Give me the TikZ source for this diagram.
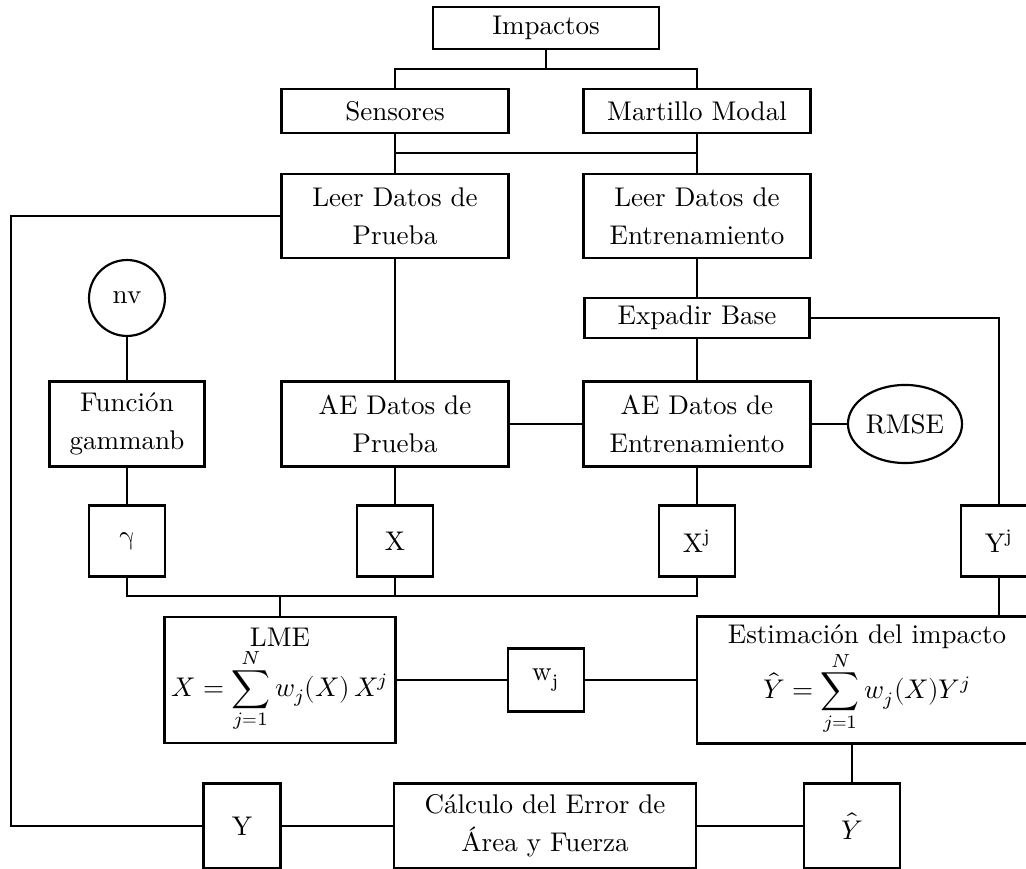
\documentclass[tikz,border=0pt]{standalone}
\usepackage{fontspec}
\usepackage{unicode-math}
\usetikzlibrary{shapes.geometric}

\tikzset{
    box/.style={draw, rectangle, inner sep=0pt, align=center, font=\fontsize{10}{14}\selectfont},
    wide/.style={box, minimum width=84pt},
    small/.style={box, minimum width=28.1pt, minimum height=26.3pt},
    link/.style={thick}
}

\begin{document}
\begin{tikzpicture}[x=0.37pt, y=-0.37pt, thick]
    % Page frame
    \useasboundingbox (0,0) rectangle (1026,869);

    % Top of the chart
    \node[wide, minimum width=83.6pt, minimum height=15.5pt] (imp) at (546,28) {Impactos};
    \node[wide, minimum height=16.3pt] (sens) at (395,111) {Sensores};
    \node[wide, minimum height=16.3pt] (mart) at (697,111) {Martillo Modal};
    \node[wide, minimum height=31.1pt] (leerP) at (395,216) {Leer Datos de\\Prueba};
    \node[wide, minimum height=31.1pt] (leerE) at (697,216) {Leer Datos de\\Entrenamiento};

    % Branch points
    \coordinate (split1) at (546,69);
    \coordinate (join1) at (546,153);
    \coordinate (join2) at (546,596);
    \coordinate (lft) at (11,216);

    % Middle rows
    \node[box, circle, minimum size=28.1pt] (nv) at (127,298) {nv};
    \node[box, minimum width=57.4pt, minimum height=31.5pt] (fun) at (127,424) {Función\\gammanb};
    \node[wide, minimum height=31.5pt] (aeP) at (395,424) {AE Datos de\\Prueba};
    \node[wide, minimum width=83.3pt, minimum height=14.8pt] (exp) at (697,318) {Expadir Base};
    \node[wide, minimum height=31.5pt] (aeE) at (697,424) {AE Datos de\\Entrenamiento};
    \node[box, ellipse, minimum width=42.2pt, minimum height=28.9pt] (rmse) at (905,424) {RMSE};

    % Vectors
    \node[small] (gam) at (127,541) {$\symup{\gamma}$};
    \node[small] (xv) at (395,541) {X};
    \node[small] (xj) at (697,541) {X\textsuperscript{j}};
    \node[small] (yj) at (999,541) {Y\textsuperscript{j}};

    % Weights and estimation
    \node[box, minimum width=85.5pt, minimum height=46.6pt] (lme) at (280,680)
        {LME\\$\displaystyle X=\sum_{j=1}^{N} w_j(X)\,X^j$};
    \node[box, minimum width=28.1pt, minimum height=23.3pt] (wj) at (546,680) {w\textsubscript{j}};
    \node[box, minimum width=125.8pt, minimum height=47pt] (est) at (867,680)
        {Estimación del impacto\\$\displaystyle \hat{Y}=\sum_{j=1}^{N} w_j(X)Y^j$};

    % Bottom row
    \node[box, minimum width=28.5pt, minimum height=31.5pt] (yv) at (242,826) {Y};
    \node[box, minimum width=112pt, minimum height=31.5pt] (calc) at (545,826) {Cálculo del Error de\\Área y Fuerza};
    \node[box, minimum width=35.5pt, minimum height=31.5pt] (yh) at (852,826) {$\hat{Y}$};

    % Connectors at the top
    \draw (imp.south) -- (split1);
    \draw (sens.north) -- (sens.north |- split1) -- (mart.north |- split1) -- (mart.north);
    \draw (sens) -- (leerP);
    \draw (mart) -- (leerE);
    \draw (sens.south |- join1) -- (mart.south |- join1);

    % Loop back to Y
    \draw (leerP.west) -- (lft) |- (yv.west);

    % Middle connectors
    \draw (leerP) -- (aeP);
    \draw (leerE) -- (exp);
    \draw (exp) -- (aeE);
    \draw (aeP) -- (aeE);
    \draw (aeE) -- (rmse);
    \draw (exp.east) -| (yj.north);
    \draw (nv) -- (fun);
    \draw (fun) -- (gam);
    \draw (aeP) -- (xv);
    \draw (aeE) -- (xj);

    % Join into LME
    \draw (gam.south) -- (gam.south |- join2) -- (xj.south |- join2) -- (xj.south);
    \draw (xv.south) -- (xv.south |- join2);
    \draw (lme.north) -- (lme.north |- join2);
    \draw (yj.south) -- (yj.south |- est.north);

    % Weights to the estimate
    \draw (lme) -- (wj);
    \draw (wj) -- (wj -| est.west);
    \draw (yh.north) -- (yh.north |- est.south);

    % Error row
    \draw (yv) -- (calc);
    \draw (calc) -- (yh);
\end{tikzpicture}
\end{document}
